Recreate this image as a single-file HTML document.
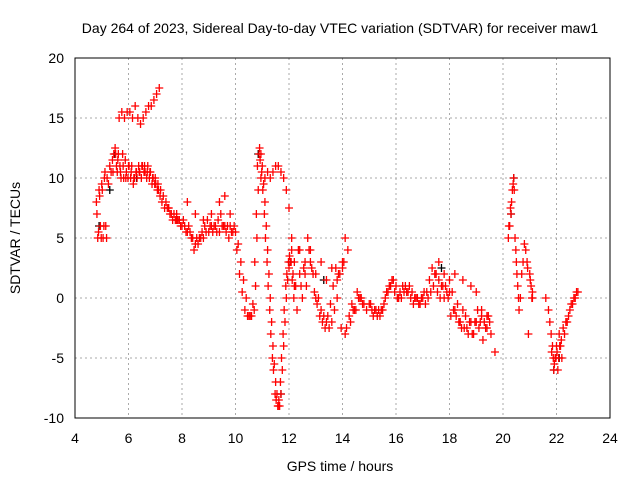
<!DOCTYPE html>
<html><head><meta charset="utf-8"><style>
body{margin:0;background:#fff;font-family:"Liberation Sans",sans-serif}
svg text{font-family:"Liberation Sans",sans-serif;font-size:14px;fill:#000}
</style></head><body>
<svg id="chart" width="640" height="480">
<text x="340" y="33" text-anchor="middle">Day 264 of 2023, Sidereal Day-to-day VTEC variation (SDTVAR) for receiver maw1</text>
<text x="340" y="471" text-anchor="middle">GPS time / hours</text>
<text transform="translate(20,238) rotate(-90)" text-anchor="middle">SDTVAR / TECUs</text>
<g id="grid"></g><g id="marks"></g>
<rect x="75" y="58" width="535" height="360" fill="none" stroke="#000"/>
</svg>
<script>
const xTicks=[4,6,8,10,12,14,16,18,20,22,24];
const yTicks=[-10,-5,0,5,10,15,20];
const mainT=[4.8,4.85,4.9,4.95,5.0,5.05,5.1,5.15,5.2,5.3,5.4,5.45,5.5,5.55,5.6,5.7,5.8,5.9,6.0,6.1,6.2,6.3,6.4,6.5,6.6,6.7,6.8,6.9,7.0,7.1,7.2,7.3,7.4,7.5,7.6,7.7,7.8,7.9,8.0,8.1,8.2,8.3,8.4,8.5,8.6,8.7,8.8,8.9,9.0,9.1,9.2,9.3,9.4,9.5,9.6,9.7,9.8,9.9,10.0,10.1,10.2,10.3,10.4,10.5,10.6,10.7,10.75,10.8,10.85,10.9,10.95,11.0,11.05,11.1,11.15,11.2,11.25,11.3,11.35,11.4,11.45,11.5,11.55,11.6,11.65,11.7,11.75,11.8,11.85,11.9,11.95,12.0,12.05,12.1,12.15,12.2,12.3,12.4,12.5,12.6,12.7,12.8,12.9,13.0,13.1,13.2,13.3,13.4,13.5,13.6,13.7,13.8,13.9,14.0,14.1,14.2,14.3,14.4,14.5,14.6,14.7,14.8,15.0,15.1,15.2,15.3,15.4,15.5,15.6,15.7,15.8,15.9,16.0,16.1,16.2,16.3,16.4,16.5,16.6,16.7,16.8,16.9,17.0,17.1,17.2,17.3,17.4,17.5,17.6,17.7,17.8,17.9,18.0,18.1,18.2,18.3,18.4,18.5,18.6,18.7,18.8,18.9,19.0,19.1,19.2,19.3,19.4,19.5,19.7,20.2,20.25,20.3,20.35,20.4,20.45,20.5,20.55,20.6,20.7,20.8,20.9,21.0,21.05,21.1,21.6,21.7,21.8,21.85,21.9,21.95,22.0,22.05,22.1,22.15,22.2,22.3,22.4,22.5,22.6,22.7,22.8];
const mainV=[8,5,9,6,9.5,5,10,6,10,11,11.5,12,12.5,11,11.5,10.5,11,10,11,10.5,10,10.5,10.5,11,11,10.5,10.5,10,10,9.5,9,8.5,8,7.5,7,7,6.5,6.5,6,6,5.5,5.5,5,4.5,4.5,5,5,5.5,5.5,6,6,5.5,5.5,6,6,6,6,5.5,5.5,4.5,3,1.5,0,-1.5,-1.5,-1,1,5,9,12.5,12,11,9.5,8,6,4,2,0,-2,-4,-5.5,-7,-8,-9,-9,-8,-6,-4,-2,0,1.5,2.5,3,4,2,1,-1,2,0,3,5,3,2,0,0,-1,-1.5,-2,-2.5,-2,-1,0,2,3,-3,4,-2,-1,-1,0,0,-0.5,-0.5,-1,-1,-1.5,-1.5,-1,0,0.5,1,1.5,1,0,0,0.5,0.5,1,0.5,0,0,-0.5,0,-0.5,0,0.5,1,2,3,1,0,0.5,1.5,0.5,-1,-0.5,-2,-1,-1.5,-3,-2,-3,-2,-2.5,-1.5,-2,-2.5,-2,-4.5,5,6,7,9,10,5,3,1,-1,2,4.5,3,2,1,0.5,0,-1,-3,-4,-6,-5,-4,-6,-3,-4,-5,-3,-2,-1,-0.5,0,0.5];
const upperT=[5.65,5.75,5.85,5.95,6.05,6.15,6.25,6.35,6.45,6.55,6.65,6.75,6.85,6.95,7.05,7.15,7.5,7.8,8.2,8.5,8.8,9.1,9.4,9.6,9.8,10.95,11.1,11.2,11.3,11.4,11.5,11.6,11.7,11.8,11.9,12.0,12.1,12.2,12.4,12.6,12.8,13.0,13.2,13.4,13.6,13.8,14.0,14.1,17.6,17.8,18.0,18.2,18.5,18.8,19.0,19.2,19.4,20.95,21.1];
const upperV=[15,15.5,15,15.5,15.5,15,16,15,14.5,15,15.5,16,16,16.5,17,17.5,7.5,7,8,7,6.5,7,8,8.5,7,10,10,10.5,10,10.5,11,11,10.5,10,9,7.5,5,3,4,2,4,2,3,1.5,2.5,1.5,2.5,5,1.5,2,0.5,2,1.5,1,0.5,-1,-1.5,-3,0];
const extraT=[
4.82,4.88,4.92,4.98,5.02,5.08,5.12,5.18,5.25,5.35,
5.42,5.52,5.58,5.62,5.68,5.72,5.78,5.82,5.88,5.92,
5.98,6.02,6.08,6.12,6.18,6.22,6.28,6.32,6.38,6.42,
6.48,6.52,6.58,6.62,6.68,6.72,6.78,6.82,6.88,6.92,
6.98,7.02,7.08,7.12,7.18,7.25,7.35,7.45,7.55,7.65,
7.75,7.85,7.95,8.05,8.15,8.25,8.35,8.45,8.55,8.65,
8.75,8.85,8.95,9.05,9.15,9.25,9.35,9.45,9.55,9.65,
9.75,9.85,9.95,10.05,10.15,10.25,10.35,10.45,10.55,10.65,
10.72,10.78,10.82,10.88,10.92,10.98,11.02,11.08,11.12,11.18,
11.22,11.28,11.32,11.38,11.42,11.48,11.52,11.58,11.62,11.68,
11.72,11.78,11.82,11.88,11.92,11.98,12.02,12.08,12.12,12.18,
12.25,12.35,12.45,12.55,12.65,12.75,12.85,12.95,13.05,13.15,
13.25,13.35,13.45,13.55,13.65,13.75,13.85,13.95,14.05,14.15,
14.25,14.35,14.45,14.55,14.65,14.75,14.9,15.05,15.15,15.25,
15.35,15.45,15.55,15.65,15.75,15.85,15.95,16.05,16.15,16.25,
16.35,16.45,16.55,16.65,16.75,16.85,16.95,17.05,17.15,17.25,
17.35,17.45,17.55,17.65,17.75,17.85,17.95,18.05,18.15,18.25,
18.35,18.45,18.55,18.65,18.75,18.85,18.95,19.05,19.15,19.25,
19.35,19.45,19.55,20.22,20.28,20.32,20.38,20.42,20.48,20.52,
20.58,20.65,20.75,20.85,20.92,21.02,21.08,21.75,21.82,21.88,
21.92,21.98,22.02,22.08,22.12,22.18,22.25,22.35,22.45,22.55,
22.65,22.75];
const extraV=[
7,5.5,8.5,5,9,6,10.5,5,9.5,10.5,
10.5,12,10.5,12,11,10,12,10,11.5,10.5,
10,11,10,11,9.5,10,10.5,10,11,10.5,
10,11,10.5,10.5,10,11,10,10.5,9.5,10,
9.5,9.5,9,9,8.5,8,7.5,7.5,7,6.5,
6.5,6.5,6,6.5,5.5,6,5,4,5,5,
5.5,6,6.5,6,5.5,6,6.5,7,6,5.5,
5,5.5,6,4,2,0.5,-1,-1.5,-1.5,-0.5,
3,7,11,12,11.5,10.5,9,7,5,3,
1,-1,-3,-5,-6,-8,-8.5,-9,-8.5,-7,
-5,-3,-1,1,2,3,3.5,3,1.5,0,
1,4,1,2.5,1,4,2.5,0.5,-0.5,-1.5,
-2,-2.5,-1.5,-0.5,1,2.5,2,-2.5,3,-2.5,
-1.5,-0.5,-1,0.5,0,-0.5,-1,-0.5,-1.5,-1,
-1,-1,-0.5,0.5,1,1.5,0.5,0,0.5,1,
1,0.5,0,-0.5,0,-0.5,0,0.5,0.5,1.5,
2.5,2,0.5,0,1,1,0,-1.5,-1,-1.5,
-2,-2.5,-2.5,-2.5,-2,-3,-2,-1,-2,-3.5,
-2.5,-1.5,-3,6,7.5,8,9.5,9,4,2,
0,0,3,4,2.5,1.5,0,-2,-4.5,-5,
-5.5,-5,-4.5,-5,-4,-3.5,-2.5,-2,-1.5,-0.5,
0,0.5];
const blackT=[4.9,5.3,5.5,6.3,7.8,10.85,11.7,12.05,13.3,17.7,20.3,20.4,21.9,22.1];
const blackV=[6,9,12,10,6.5,12,-8,3,1.5,2.5,7,10,-6,-5];
const X=t=>75+(t-4)*535/20, Y=v=>418-(v+10)*12;
const NS="http://www.w3.org/2000/svg";
const grid=document.getElementById('grid'), marks=document.getElementById('marks'), svg=document.getElementById('chart');
xTicks.forEach(t=>{const x=X(t);
 if(t>4&&t<24){const l=document.createElementNS(NS,'line');l.setAttribute('x1',x);l.setAttribute('x2',x);l.setAttribute('y1',58);l.setAttribute('y2',418);l.setAttribute('stroke','#aaa');l.setAttribute('stroke-dasharray','2,3');
 
 grid.appendChild(l);}
 const tx=document.createElementNS(NS,'text');tx.setAttribute('x',x);tx.setAttribute('y',443);tx.setAttribute('text-anchor','middle');tx.textContent=t;
 
 svg.appendChild(tx);});
yTicks.forEach(v=>{const y=Y(v);
 if(v>-10&&v<20){const l=document.createElementNS(NS,'line');l.setAttribute('x1',75);l.setAttribute('x2',610);l.setAttribute('y1',y);l.setAttribute('y2',y);l.setAttribute('stroke','#aaa');l.setAttribute('stroke-dasharray','2,3');
 
 grid.appendChild(l);}
 const tx=document.createElementNS(NS,'text');tx.setAttribute('x',64);tx.setAttribute('y',y+5);tx.setAttribute('text-anchor','end');tx.textContent=v;
 
 svg.appendChild(tx);});
function plus(t,v,c){const p=document.createElementNS(NS,'path');const x=X(t),y=Y(v);
 p.setAttribute('d',`M${x-4},${y}H${x+4}M${x},${y-4}V${y+4}`);p.setAttribute('stroke',c);p.setAttribute('stroke-width','1.3');
 
 marks.appendChild(p);}
blackT.forEach((t,i)=>plus(t,blackV[i],'#000'));
mainT.forEach((t,i)=>plus(t,mainV[i],'#f00'));
upperT.forEach((t,i)=>plus(t,upperV[i],'#f00'));
extraT.forEach((t,i)=>plus(t,extraV[i],'#f00'));
</script>
</body></html>
